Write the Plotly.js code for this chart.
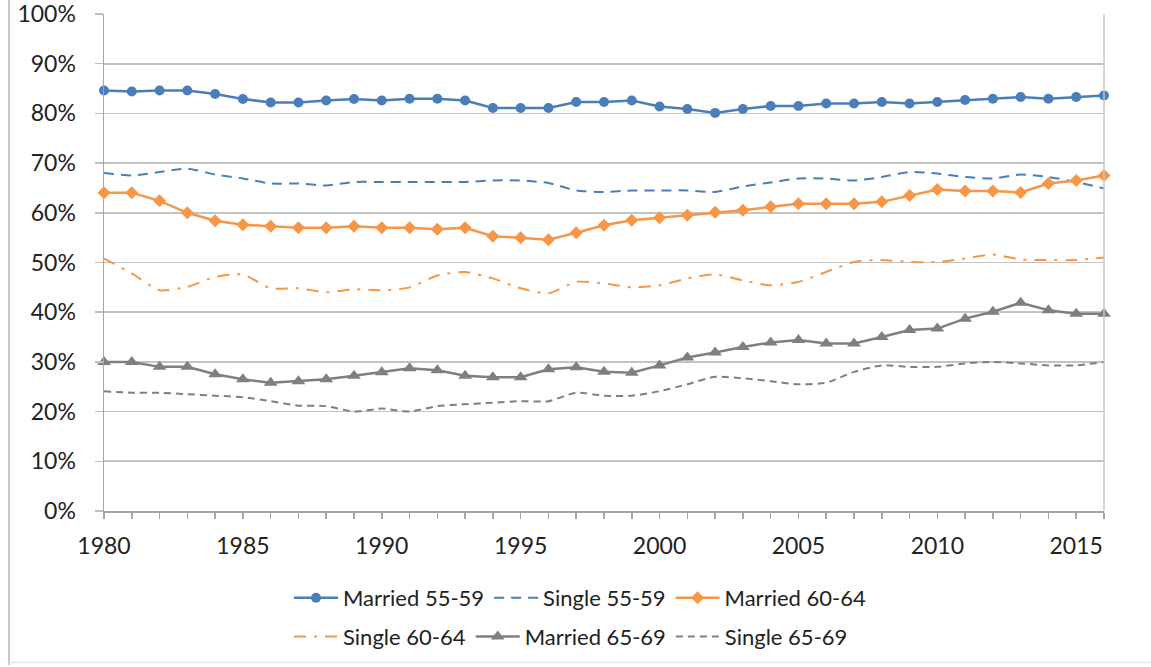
<!DOCTYPE html>
<html>
<head>
<meta charset="utf-8">
<script src="https://cdn.plot.ly/plotly-3.0.1.min.js"></script>
<style>html,body{margin:0;padding:0;background:#fff;}#chart{width:1151px;height:667px;}</style>
</head>
<body>
<div id="chart"></div>
<script>
const years = [1980,1981,1982,1983,1984,1985,1986,1987,1988,1989,1990,1991,1992,1993,1994,1995,1996,1997,1998,1999,2000,2001,2002,2003,2004,2005,2006,2007,2008,2009,2010,2011,2012,2013,2014,2015,2016];

const married5559 = [84.6,84.4,84.6,84.6,83.9,82.9,82.2,82.2,82.6,82.9,82.6,82.95,82.95,82.6,81.1,81.1,81.1,82.3,82.3,82.6,81.4,80.9,80.1,80.9,81.5,81.5,82.0,82.0,82.3,82.0,82.3,82.7,82.95,83.3,82.95,83.3,83.6];
const single5559 = [68.0,67.5,68.2,68.9,67.7,66.9,65.9,65.9,65.5,66.2,66.2,66.2,66.2,66.2,66.5,66.5,66.0,64.5,64.2,64.5,64.5,64.5,64.2,65.3,66.1,66.9,66.9,66.5,67.2,68.2,67.9,67.2,66.9,67.7,67.2,66.2,64.9];
const married6064 = [64.05,64.05,62.4,60.0,58.4,57.6,57.3,57.0,57.0,57.3,57.0,57.0,56.7,57.0,55.3,55.0,54.6,56.0,57.5,58.5,59.0,59.5,60.1,60.5,61.2,61.8,61.8,61.8,62.2,63.5,64.7,64.4,64.4,64.1,65.9,66.5,67.5];
const single6064 = [50.8,47.8,44.4,45.1,47.1,47.6,44.8,44.8,44.0,44.6,44.4,45.0,47.4,48.1,46.8,44.8,43.8,46.1,45.8,45.0,45.4,46.8,47.6,46.4,45.4,46.1,48.1,50.1,50.5,50.1,50.1,50.8,51.6,50.6,50.5,50.5,51.0];
const married6569 = [30.0,30.0,29.0,29.0,27.5,26.5,25.8,26.1,26.5,27.2,27.9,28.7,28.3,27.2,26.9,26.9,28.5,28.9,28.0,27.8,29.3,30.9,31.9,33.0,33.9,34.4,33.7,33.7,35.0,36.4,36.7,38.7,40.1,41.9,40.4,39.7,39.7];
const single6569 = [24.1,23.8,23.8,23.5,23.2,22.9,22.1,21.2,21.1,20.0,20.6,20.0,21.1,21.5,21.8,22.1,22.1,23.8,23.2,23.2,24.1,25.5,27.0,26.7,26.1,25.5,25.8,28.0,29.3,29.0,29.0,29.7,30.0,29.7,29.3,29.3,30.0];

const seriesNames = ["Married 55-59","Single 55-59","Married 60-64","Single 60-64","Married 65-69","Single 65-69"];
const xTickLabels = [1980,1985,1990,1995,2000,2005,2010,2015];

const BLUE = "#4a7ebb", ORANGE = "#f79646", GRAY = "#7f7f7f";

const traces = [
  {x: years, y: married5559, name: seriesNames[0], mode: "lines+markers", legend: "legend",
   line: {color: BLUE, width: 2.5}, marker: {symbol: "circle", size: 10, color: BLUE}, cliponaxis: false},
  {x: years, y: single5559, name: seriesNames[1], mode: "lines", legend: "legend",
   line: {color: BLUE, width: 2, dash: "10px,7px", shape: "spline", smoothing: 0.6}, cliponaxis: false},
  {x: years, y: married6064, name: seriesNames[2], mode: "lines+markers", legend: "legend",
   line: {color: ORANGE, width: 2.5}, marker: {symbol: "diamond", size: 10, color: ORANGE}, cliponaxis: false},
  {x: years, y: single6064, name: seriesNames[3], mode: "lines", legend: "legend2",
   line: {color: ORANGE, width: 2, dash: "12px,8px,3px,8px", shape: "spline", smoothing: 0.6}, cliponaxis: false},
  {x: years, y: married6569, name: seriesNames[4], mode: "lines+markers", legend: "legend2",
   line: {color: GRAY, width: 2.5}, marker: {symbol: "triangle-up", size: 12, color: GRAY}, cliponaxis: false},
  {x: years, y: single6569, name: seriesNames[5], mode: "lines", legend: "legend2",
   line: {color: GRAY, width: 2, dash: "7px,5px", shape: "spline", smoothing: 0.6}, cliponaxis: false}
];

const FONT = "Lato, 'Open Sans', sans-serif";
const legendBase = {
  orientation: "h", xanchor: "left", x: 0.185, yanchor: "middle",
  font: {family: FONT, size: 22, color: "#222"},
  bgcolor: "rgba(0,0,0,0)", itemwidth: 44, tracegroupgap: 0
};

const layout = {
  width: 1151, height: 667,
  margin: {l: 104, r: 47, t: 14, b: 156, autoexpand: false},
  paper_bgcolor: "#fff", plot_bgcolor: "#fff",
  font: {family: FONT, size: 22, color: "#222"},
  showlegend: true,
  legend: Object.assign({}, legendBase, {y: -0.175}),
  legend2: Object.assign({}, legendBase, {y: -0.253}),
  xaxis: {
    range: [1980, 2016], tickmode: "array", tickvals: xTickLabels, ticktext: xTickLabels.map(String),
    ticks: "outside", ticklen: 6, tickwidth: 1.5, tickcolor: "#a6a6a6",
    minor: {dtick: 1, tick0: 1980, ticks: "outside", ticklen: 6, tickwidth: 1.5, tickcolor: "#a6a6a6", showgrid: false},
    showgrid: false, showline: true, linecolor: "#a6a6a6", linewidth: 1.5, mirror: false,
    zeroline: false, ticklabelstandoff: 8, automargin: false, ticklabeloverflow: "allow",
    tickfont: {family: FONT, size: 23, color: "#222"}
  },
  yaxis: {
    range: [0, 100], dtick: 10, ticksuffix: "%",
    ticks: "outside", ticklen: 8, tickwidth: 1.5, tickcolor: "#c0c0c0",
    showgrid: true, gridcolor: "#c4c4c4", gridwidth: 1.7,
    showline: true, linecolor: "#a6a6a6", linewidth: 1.5, zeroline: false,
    ticklabelstandoff: 14, automargin: false, ticklabeloverflow: "allow",
    tickfont: {family: FONT, size: 23, color: "#222"}
  },
  shapes: [
    {type: "line", xref: "paper", yref: "paper", x0: 1, x1: 1, y0: 0, y1: 1, line: {color: "#c8c8c8", width: 1.5}},
    {type: "line", xref: "paper", yref: "paper", x0: -0.095, x1: -0.095, y0: -0.31, y1: 1.03, line: {color: "#c8c8c8", width: 2}},
    {type: "line", xref: "paper", yref: "paper", x0: -0.095, x1: 1.047, y0: -0.305, y1: -0.305, line: {color: "#e6e6e6", width: 1.5}}
  ]
};

Plotly.newPlot("chart", traces, layout, {displayModeBar: false, staticPlot: true});
</script>
</body>
</html>
